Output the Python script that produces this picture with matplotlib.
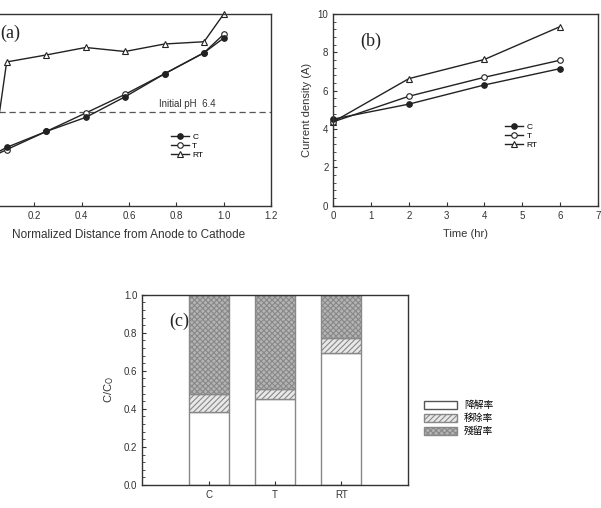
import matplotlib.pyplot as plt
from matplotlib.ticker import AutoMinorLocator, MultipleLocator
from matplotlib.patches import Patch

plt.rcParams['font.family'] = ['Liberation Sans', 'DejaVu Sans']
plt.rcParams['hatch.color'] = '#666666'
plt.rcParams['hatch.linewidth'] = 0.8

# (a) pH profile
dist = [0.0, 0.083, 0.25, 0.417, 0.583, 0.75, 0.917, 1.0]
ph_c = [3.74, 4.35, 5.26, 6.07, 7.25, 8.57, 9.78, 10.62]
ph_t = [3.68, 4.22, 5.26, 6.32, 7.39, 8.57, 9.78, 10.84]
ph_rt = [1.33, 9.25, 9.65, 10.08, 9.85, 10.28, 10.41, 12.0]
ph_init = 6.4

# (b) current density
time_hr = [0, 2, 4, 6]
cur_c = [4.52, 5.3, 6.3, 7.15]
cur_t = [4.38, 5.71, 6.7, 7.59]
cur_rt = [4.38, 6.63, 7.63, 9.34]

# (c) C/Co stacked bars
groups = ['C', 'T', 'RT']
degrade = [0.385, 0.452, 0.692]
removal = [0.095, 0.054, 0.08]
residual = [0.52, 0.494, 0.228]
legend_c = ['降解率', '移除率', '殘留率']

fig = plt.figure(figsize=(6.01, 5.08), dpi=100)
ax_a = fig.add_axes([-0.0216, 0.595, 0.4726, 0.3774])
ax_b = fig.add_axes([0.5546, 0.595, 0.440, 0.3774])
ax_c = fig.add_axes([0.2368, 0.0453, 0.4414, 0.3746])

spine_col = '#333333'
line_col = '#222222'


def style(ax):
    for s in ax.spines.values():
        s.set_color(spine_col)
        s.set_linewidth(1.0)
    ax.tick_params(direction='in', labelsize=7, colors=spine_col,
                   labelcolor='#333333', length=3, width=0.8)
    ax.tick_params(which='minor', direction='in', length=2, width=0.6,
                   colors=spine_col)


# ---- (a)
ax_a.axhline(ph_init, color='#555555', lw=0.9, ls=(0, (5, 3)))
mk = dict(ms=4, mew=0.8, clip_on=False, lw=1.0, color=line_col)
ax_a.plot(dist, ph_rt, marker='^', mfc='white', label='RT', **mk)
ax_a.plot(dist, ph_t, marker='o', mfc='white', label='T', **mk)
ax_a.plot(dist, ph_c, marker='o', mfc=line_col, label='C', **mk)
ax_a.set_xlim(0, 1.2)
ax_a.set_ylim(1, 12)
ax_a.set_xticks([0.2, 0.4, 0.6, 0.8, 1.0, 1.2])
ax_a.set_yticks([])
style(ax_a)
ax_a.text(0.965, 6.55, 'Initial pH  6.4', fontsize=7, ha='right',
          va='bottom', color='#333333')
ax_a.text(0.047, 0.9, '(a)', transform=ax_a.transAxes, fontsize=13,
          family='Liberation Serif', va='center', color='#222222')
ax_a.set_xlabel('Normalized Distance from Anode to Cathode', fontsize=8.5,
                color='#333333', labelpad=6)
h, l = ax_a.get_legend_handles_labels()
ax_a.legend(h[::-1], l[::-1], loc='upper left', bbox_to_anchor=(0.62, 0.42),
            frameon=False, fontsize=6, handlelength=2.2, labelspacing=0.15,
            handletextpad=0.4)

# ---- (b)
ax_b.plot(time_hr, cur_rt, marker='^', mfc='white', label='RT', **mk)
ax_b.plot(time_hr, cur_t, marker='o', mfc='white', label='T', **mk)
ax_b.plot(time_hr, cur_c, marker='o', mfc=line_col, label='C', **mk)
ax_b.set_xlim(0, 7)
ax_b.set_ylim(0, 10)
ax_b.xaxis.set_major_locator(MultipleLocator(1))
ax_b.yaxis.set_major_locator(MultipleLocator(2))
ax_b.yaxis.set_minor_locator(AutoMinorLocator(5))
style(ax_b)
ax_b.text(0.1, 0.86, '(b)', transform=ax_b.transAxes, fontsize=13,
          family='Liberation Serif', va='center', color='#222222')
ax_b.set_xlabel('Time (hr)', fontsize=8, color='#333333', labelpad=6)
ax_b.set_ylabel('Current density (A)', fontsize=8, color='#333333', labelpad=4)
h, l = ax_b.get_legend_handles_labels()
ax_b.legend(h[::-1], l[::-1], loc='upper left', bbox_to_anchor=(0.62, 0.47),
            frameon=False, fontsize=6, handlelength=2.2, labelspacing=0.15,
            handletextpad=0.4)

# ---- (c)
pos = [1, 2, 3]
bar_edge = '#888888'
ax_c.bar(pos, degrade, width=0.6, color='white', edgecolor=bar_edge, lw=1.0)
bottom2 = [d for d in degrade]
ax_c.bar(pos, removal, width=0.6, bottom=bottom2, color='#e8e8e8',
         edgecolor=bar_edge, hatch='//////', lw=1.0)
bottom3 = [d + r for d, r in zip(degrade, removal)]
ax_c.bar(pos, residual, width=0.6, bottom=bottom3, color='#b4b4b4',
         edgecolor=bar_edge, hatch='xxxxxx', lw=1.0)
ax_c.set_xlim(0, 4)
ax_c.set_ylim(0, 1)
ax_c.set_xticks(pos)
ax_c.set_xticklabels(groups)
ax_c.yaxis.set_major_locator(MultipleLocator(0.2))
ax_c.yaxis.set_minor_locator(AutoMinorLocator(5))
ax_c.yaxis.set_major_formatter(plt.FormatStrFormatter('%.1f'))
style(ax_c)
ax_c.text(0.1, 0.86, '(c)', transform=ax_c.transAxes, fontsize=13,
          family='Liberation Serif', va='center', color='#222222')
ax_c.set_ylabel('C/C$_\\mathrm{O}$', fontsize=8, color='#333333', labelpad=6)
handles = [Patch(facecolor='white', edgecolor='#555555'),
           Patch(facecolor='#e8e8e8', edgecolor='#888888', hatch='//////'),
           Patch(facecolor='#b4b4b4', edgecolor='#888888', hatch='xxxxxx')]
ax_c.legend(handles, legend_c, loc='center left', bbox_to_anchor=(1.03, 0.35),
            frameon=False, handlelength=3.4, handleheight=0.8,
            labelspacing=0.3, handletextpad=0.7,
            prop={'family': ['Noto Sans CJK TC', 'DejaVu Sans'], 'size': 7})

fig.savefig('out.png', dpi=100)
